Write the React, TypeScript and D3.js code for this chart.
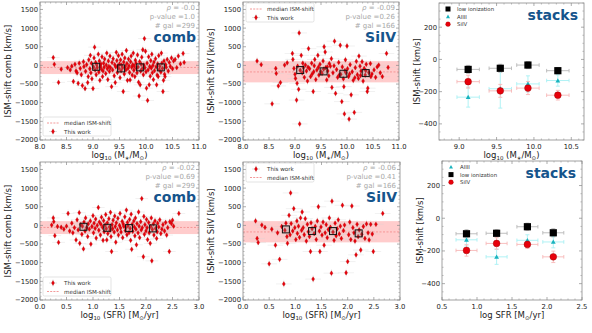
import React from 'react';
import * as d3 from 'd3';

type P = [number, number];

// ---------- data ----------
const COMB_MASS: P[] = [[8.25,210],[8.27,30],[8.35,-455],[8.40,-100],[8.52,-60],[8.57,-120],[8.60,-20],[8.63,-430],[8.66,30],[8.68,-150],[8.70,-200],[8.72,-480],[8.74,60],[8.76,-80],[8.78,-250],[8.80,-540],[8.82,100],[8.83,-30],[8.85,-620],[8.86,-160],[8.88,20],[8.90,-460],[8.91,-300],[8.92,150],[8.94,-90],[8.95,270],[8.96,-200],[8.97,60],[8.98,-360],[9.00,-620],[9.01,-40],[9.02,200],[9.03,490],[9.04,-120],[9.05,80],[9.06,-250],[9.07,20],[9.08,-60],[9.10,300],[9.11,-180],[9.12,120],[9.13,-400],[9.14,-20],[9.15,40],[9.16,-100],[9.17,230],[9.18,-300],[9.19,-150],[9.20,60],[9.21,-50],[9.22,170],[9.24,-220],[9.25,10],[9.26,330],[9.27,-90],[9.28,-380],[9.29,120],[9.30,-30],[9.31,-160],[9.32,250],[9.33,-60],[9.35,-570],[9.36,80],[9.37,-120],[9.38,180],[9.40,-280],[9.41,20],[9.42,-460],[9.43,-40],[9.44,350],[9.45,130],[9.46,-190],[9.47,-10],[9.48,260],[9.49,-80],[9.50,40],[9.51,-330],[9.52,150],[9.53,-140],[9.54,10],[9.55,300],[9.56,-60],[9.57,-700],[9.58,90],[9.59,-230],[9.60,200],[9.61,-30],[9.62,-120],[9.63,400],[9.64,50],[9.65,-400],[9.66,-80],[9.67,170],[9.68,-10],[9.69,-190],[9.70,-390],[9.71,100],[9.72,250],[9.73,-50],[9.74,-260],[9.75,20],[9.76,330],[9.77,-130],[9.78,-20],[9.79,-300],[9.80,140],[9.81,60],[9.82,-80],[9.83,-200],[9.84,280],[9.85,-40],[9.86,-450],[9.87,-820],[9.88,100],[9.89,-520],[9.90,-150],[9.91,30],[9.92,220],[9.93,-90],[9.94,420],[9.95,-250],[9.96,10],[9.97,720],[9.98,-60],[9.99,380],[10.00,-170],[10.01,-610],[10.02,60],[10.03,-940],[10.04,-120],[10.05,230],[10.06,-520],[10.07,-30],[10.08,-290],[10.09,130],[10.10,-70],[10.11,300],[10.12,-200],[10.13,0],[10.14,-380],[10.15,90],[10.16,-140],[10.18,180],[10.19,-40],[10.20,-520],[10.21,-260],[10.22,40],[10.23,-300],[10.24,260],[10.25,-110],[10.26,-20],[10.28,-180],[10.29,330],[10.30,60],[10.31,-80],[10.32,-700],[10.33,-400],[10.34,120],[10.35,-240],[10.36,-300],[10.37,20],[10.38,-50],[10.40,160],[10.42,-150],[10.44,80],[10.46,-30],[10.48,200],[10.50,-90],[10.52,120],[10.55,160],[10.58,-60],[10.61,250],[10.65,40],[10.70,320],[10.72,80]];

const SIIV_MASS: P[] = [[8.27,120],[8.35,20],[8.56,-1030],[8.63,-80],[8.64,-215],[8.68,-550],[8.72,-460],[8.80,10],[8.85,70],[8.95,320],[8.96,160],[8.98,-80],[9.00,-240],[9.01,-350],[9.03,-930],[9.04,-480],[9.05,-20],[9.07,-640],[9.08,870],[9.09,-1570],[9.10,-130],[9.12,270],[9.14,-200],[9.15,60],[9.16,-60],[9.18,-320],[9.20,10],[9.22,-150],[9.24,-420],[9.25,-50],[9.26,450],[9.28,-90],[9.30,-300],[9.32,60],[9.33,-230],[9.35,-700],[9.36,-170],[9.37,-10],[9.38,160],[9.40,-380],[9.42,-120],[9.44,270],[9.45,-50],[9.46,-260],[9.48,30],[9.50,-170],[9.52,-215],[9.54,120],[9.55,-100],[9.56,500],[9.58,360],[9.59,-60],[9.61,-390],[9.62,-40],[9.63,-150],[9.65,-280],[9.66,50],[9.68,-20],[9.70,180],[9.71,-590],[9.73,-200],[9.75,-10],[9.76,650],[9.78,-750],[9.80,-110],[9.82,-320],[9.84,80],[9.85,-260],[9.87,540],[9.88,-240],[9.90,-970],[9.91,-40],[9.93,-360],[9.94,-570],[9.95,-1300],[9.96,-140],[9.97,150],[9.98,-200],[10.00,520],[10.01,-90],[10.03,-300],[10.04,-1440],[10.05,-230],[10.06,20],[10.08,-790],[10.10,-170],[10.12,-400],[10.14,-1260],[10.15,-330],[10.16,-60],[10.18,110],[10.20,-250],[10.22,-350],[10.23,250],[10.25,-20],[10.26,-270],[10.27,-150],[10.29,100],[10.31,-420],[10.33,-80],[10.35,-260],[10.36,-140],[10.37,30],[10.39,-700],[10.40,-610],[10.42,-190],[10.45,50],[10.46,-300],[10.48,-230],[10.52,-120],[10.55,-320],[10.58,-40],[10.61,10],[10.64,-200],[10.68,-300],[10.76,320],[10.79,-55]];

const COMB_SFR: P[] = [[0.22,10],[0.25,200],[0.26,100],[0.28,-275],[0.33,-30],[0.35,-455],[0.40,-50],[0.45,-100],[0.50,-20],[0.53,320],[0.56,-150],[0.60,60],[0.62,-200],[0.65,-60],[0.68,-390],[0.70,150],[0.72,-120],[0.74,340],[0.75,-480],[0.77,20],[0.79,-240],[0.80,-20],[0.82,-630],[0.83,90],[0.85,-150],[0.86,200],[0.88,-60],[0.90,-300],[0.91,40],[0.93,-100],[0.95,120],[0.96,-500],[0.98,-30],[1.00,260],[1.01,-200],[1.02,60],[1.04,-80],[1.05,170],[1.06,-340],[1.08,0],[1.10,480],[1.11,-130],[1.12,90],[1.14,-260],[1.15,30],[1.16,220],[1.18,-50],[1.19,-400],[1.20,130],[1.21,-170],[1.23,10],[1.24,290],[1.25,-90],[1.26,-390],[1.27,70],[1.28,-220],[1.30,180],[1.31,-40],[1.32,-130],[1.33,350],[1.34,-300],[1.35,-700],[1.36,20],[1.37,-90],[1.38,140],[1.40,-180],[1.41,250],[1.42,-30],[1.43,-450],[1.44,70],[1.46,-120],[1.47,190],[1.48,-260],[1.50,0],[1.51,320],[1.52,-70],[1.53,-180],[1.55,110],[1.56,-330],[1.57,40],[1.58,-20],[1.60,230],[1.61,-140],[1.62,-60],[1.63,410],[1.64,-250],[1.65,80],[1.66,-10],[1.68,-190],[1.69,160],[1.70,-80],[1.71,-400],[1.72,300],[1.73,-640],[1.74,30],[1.75,-160],[1.77,120],[1.78,-40],[1.79,-280],[1.80,200],[1.81,-100],[1.82,-520],[1.83,50],[1.85,-200],[1.86,360],[1.87,-20],[1.88,-330],[1.90,100],[1.91,-120],[1.92,720],[1.93,-60],[1.95,-840],[1.96,240],[1.97,-240],[1.98,20],[2.00,-150],[2.01,160],[2.02,-60],[2.03,-380],[2.05,80],[2.06,-200],[2.08,-480],[2.09,-30],[2.10,200],[2.11,-950],[2.12,-110],[2.14,40],[2.15,-260],[2.17,120],[2.18,-80],[2.20,-350],[2.21,-170],[2.22,60],[2.24,-40],[2.26,150],[2.28,-220],[2.30,-100],[2.32,20],[2.35,-150],[2.37,80],[2.39,-260],[2.41,-60],[2.44,-700],[2.45,100],[2.48,50],[2.50,140],[2.52,-20],[2.62,320]];

const SIIV_SFR: P[] = [[0.24,120],[0.27,-350],[0.29,-460],[0.36,10],[0.42,-55],[0.50,-1030],[0.55,-100],[0.62,-530],[0.66,-200],[0.70,-910],[0.74,-30],[0.78,-1570],[0.80,-130],[0.82,60],[0.84,-300],[0.85,-480],[0.88,270],[0.90,-250],[0.91,870],[0.92,50],[0.95,-150],[0.97,450],[0.99,-60],[1.01,-380],[1.03,120],[1.04,-215],[1.06,-20],[1.08,-320],[1.10,200],[1.12,-130],[1.13,360],[1.15,-60],[1.17,-250],[1.19,180],[1.21,-420],[1.23,30],[1.25,-170],[1.27,-300],[1.29,-700],[1.30,70],[1.32,-90],[1.34,-1440],[1.36,-220],[1.38,-30],[1.40,-380],[1.42,120],[1.44,500],[1.46,-150],[1.47,-700],[1.49,-40],[1.51,-260],[1.53,90],[1.55,-530],[1.57,-200],[1.59,20],[1.61,-330],[1.63,-110],[1.65,200],[1.67,-50],[1.69,-1280],[1.70,650],[1.72,-180],[1.74,-400],[1.76,60],[1.78,-280],[1.80,-90],[1.82,150],[1.84,-230],[1.86,-20],[1.88,-350],[1.90,540],[1.92,-140],[1.94,10],[1.97,-1270],[2.00,-970],[2.02,-250],[2.04,90],[2.06,-380],[2.08,520],[2.10,-60],[2.12,-200],[2.14,-420],[2.16,-790],[2.18,30],[2.20,-300],[2.22,-120],[2.25,-660],[2.27,-240],[2.30,-30],[2.33,-350],[2.36,40],[2.39,-200],[2.41,-390],[2.44,30],[2.47,-230],[2.49,-700],[2.54,30],[2.67,320]];

const COMB_MASS_BINS: P[] = [[9.06,-37],[9.53,-80],[9.89,-53],[10.28,-53]];
const SIIV_MASS_BINS: P[] = [[9.10,-125],[9.55,-160],[9.93,-224],[10.36,-206]];
const COMB_SFR_BINS: P[] = [[0.82,-37],[1.27,-64],[1.68,-72],[2.13,-80]];
const SIIV_SFR_BINS: P[] = [[0.82,-107],[1.32,-152],[1.72,-152],[2.21,-214]];

const COMB_MEDIAN = -55;
const COMB_BAND: P = [-232, 115];
const SIIV_MEDIAN = -175;
const SIIV_BAND: P = [-455, 115];

const STATS_COMB_MASS = ['-0.0', '1.0', '299'];
const STATS_SIIV_MASS = ['-0.09', '0.26', '166'];
const STATS_COMB_SFR = ['-0.02', '0.69', '299'];
const STATS_SIIV_SFR = ['-0.06', '0.41', '166'];

const SCATTER_Y_TICKS = [1500, 1000, 500, 0, -500, -1000, -1500, -2000];
const MASS_X_TICKS = [8.0, 8.5, 9.0, 9.5, 10.0, 10.5, 11.0];
const SFR_X_TICKS = [0.0, 0.5, 1.0, 1.5, 2.0, 2.5, 3.0];

// stacks
const STACK_MASS_X = [9.12, 9.55, 9.92, 10.32];
const LOWION_MASS = [-62, -55, -35, -70];
const LOWION_MASS_ERR = [25, 25, 22, 20];
const ALIII_MASS = [-234, -182, -152, -131];
const ALIII_MASS_ERR = [62, 120, 50, 35];
const SIIV_STACK_MASS = [-138, -195, -178, -222];
const SIIV_STACK_MASS_ERR = [40, 40, 40, 30];

const STACK_SFR_X = [0.85, 1.28, 1.72, 2.09];
const LOWION_SFR = [-95, -92, -52, -89];
const LOWION_SFR_ERR = [25, 22, 22, 25];
const ALIII_SFR = [-132, -236, -135, -145];
const ALIII_SFR_ERR = [38, 46, 34, 36];
const SIIV_STACK_SFR = [-197, -154, -160, -236];
const SIIV_STACK_SFR_ERR = [35, 35, 25, 35];

const STACK_Y_TICKS = [200, 0, -200, -400];
const STACK_MASS_X_TICKS = [9.0, 9.5, 10.0, 10.5];
const STACK_SFR_X_TICKS = [0.5, 1.0, 1.5, 2.0, 2.5];

// ---------- style ----------
const FONT = 'DejaVu Sans, sans-serif';
const TAG_COLOR = '#15548c';
const STAT_COLOR = '#a8a8a8';
const FRAME = '#8a8a8a';
const RED = '#e8000b';

const fmtY = (v: number) => (v < 0 ? '\u2212' + Math.abs(v) : String(v));
const fmtX = (v: number) => (v < 0 ? '\u2212' : '') + Math.abs(v).toFixed(1);

function diamond(cx: number, cy: number, w = 1.5, h = 2.4) {
  return `M${cx},${cy - h}L${cx + w},${cy}L${cx},${cy + h}L${cx - w},${cy}Z`;
}

function Frame({ x0, x1, y0, y1, xs, ys, xTicks, yTicks, xMinor, yMinor }: any) {
  const els: any[] = [];
  const L = 3, m = 1.6;
  xTicks.forEach((t: number, i: number) => {
    const x = xs(t);
    els.push(<line key={'xt' + i} x1={x} x2={x} y1={y1} y2={y1 - L} stroke={FRAME} strokeWidth={0.7} />);
    els.push(<line key={'xtt' + i} x1={x} x2={x} y1={y0} y2={y0 + L} stroke={FRAME} strokeWidth={0.7} />);
  });
  yTicks.forEach((t: number, i: number) => {
    const y = ys(t);
    els.push(<line key={'yt' + i} x1={x0} x2={x0 + L} y1={y} y2={y} stroke={FRAME} strokeWidth={0.7} />);
    els.push(<line key={'ytr' + i} x1={x1} x2={x1 - L} y1={y} y2={y} stroke={FRAME} strokeWidth={0.7} />);
  });
  xMinor.forEach((t: number, i: number) => {
    const x = xs(t);
    els.push(<line key={'xm' + i} x1={x} x2={x} y1={y1} y2={y1 - m} stroke={FRAME} strokeWidth={0.5} />);
    els.push(<line key={'xmt' + i} x1={x} x2={x} y1={y0} y2={y0 + m} stroke={FRAME} strokeWidth={0.5} />);
  });
  yMinor.forEach((t: number, i: number) => {
    const y = ys(t);
    els.push(<line key={'ym' + i} x1={x0} x2={x0 + m} y1={y} y2={y} stroke={FRAME} strokeWidth={0.5} />);
    els.push(<line key={'ymr' + i} x1={x1} x2={x1 - m} y1={y} y2={y} stroke={FRAME} strokeWidth={0.5} />);
  });
  return (
    <g>
      {els}
      <rect x={x0} y={y0} width={x1 - x0} height={y1 - y0} fill="none" stroke={FRAME} strokeWidth={0.8} />
    </g>
  );
}

function TickLabels({ x0, y1, xs, ys, xTicks, yTicks, xFmt }: any) {
  return (
    <g fontFamily={FONT} fontSize={6.8} fill="#222">
      {xTicks.map((t: number, i: number) => (
        <text key={'x' + i} x={xs(t)} y={y1 + 8.5} textAnchor="middle">{xFmt(t)}</text>
      ))}
      {yTicks.map((t: number, i: number) => (
        <text key={'y' + i} x={x0 - 2} y={ys(t) + 2.4} textAnchor="end">{fmtY(t)}</text>
      ))}
    </g>
  );
}

function MassLabel({ x, y }: any) {
  return (
    <text x={x} y={y} textAnchor="middle" fontFamily={FONT} fontSize={8.5} fill="#222">
      <tspan>log</tspan>
      <tspan dy={2} fontSize={5.5}>10</tspan>
      <tspan dy={-2}> (M</tspan>
      <tspan dy={2} fontSize={5.5}>∗</tspan>
      <tspan dy={-2}>/M</tspan>
      <tspan dy={2} fontSize={5.5}>⊙</tspan>
      <tspan dy={-2}>)</tspan>
    </text>
  );
}

function SfrLabel({ x, y, plain }: any) {
  if (plain) {
    return (
      <text x={x} y={y} textAnchor="middle" fontFamily={FONT} fontSize={8.5} fill="#222">
        <tspan>log SFR [M</tspan>
        <tspan dy={2} fontSize={5.5}>⊙</tspan>
        <tspan dy={-2}>/yr]</tspan>
      </text>
    );
  }
  return (
    <text x={x} y={y} textAnchor="middle" fontFamily={FONT} fontSize={8.5} fill="#222">
      <tspan>log</tspan>
      <tspan dy={2} fontSize={5.5}>10</tspan>
      <tspan dy={-2}> (SFR) [M</tspan>
      <tspan dy={2} fontSize={5.5}>⊙</tspan>
      <tspan dy={-2}>/yr]</tspan>
    </text>
  );
}

function ScatterPanel(props: any) {
  const { x0, x1, y0, y1, xDomain, xTicks, xMinorStep, points, bins, median, band, stats, tag, yLabel, xLabel, legend, xErr } = props;
  const xs = d3.scaleLinear().domain(xDomain).range([x0, x1]);
  const ys = d3.scaleLinear().domain([-2000, 1700]).range([y1, y0]);
  const xMinor = d3.range(xDomain[0], xDomain[1] + 1e-9, xMinorStep).filter((v) => !xTicks.some((t: number) => Math.abs(t - v) < 1e-6));
  const yMinor = d3.range(-2000, 1700, 100).filter((v) => v % 500 !== 0);
  const yErr = 110;
  const clip = `clip-${x0}-${y0}`;
  const legendRows = legend.order.map((k: string, i: number) => {
    const ly = legend.y + 6 + i * 8.5;
    const lx = legend.x + 4;
    if (k === 'median') {
      return (
        <g key={k}>
          <line x1={lx} x2={lx + 12} y1={ly} y2={ly} stroke="#f08080" strokeWidth={0.8} strokeDasharray="2,1.2" />
          <text x={lx + 17} y={ly + 2} fontFamily={FONT} fontSize={5.6} fill="#333">median ISM-shift</text>
        </g>
      );
    }
    return (
      <g key={k}>
        <line x1={lx + 2} x2={lx + 10} y1={ly} y2={ly} stroke="#ccc" strokeWidth={0.6} />
        <line x1={lx + 6} x2={lx + 6} y1={ly - 3.5} y2={ly + 3.5} stroke="#ccc" strokeWidth={0.6} />
        <path d={diamond(lx + 6, ly)} fill={RED} stroke="#a00" strokeWidth={0.3} />
        <text x={lx + 17} y={ly + 2} fontFamily={FONT} fontSize={5.6} fill="#333">This work</text>
      </g>
    );
  });
  return (
    <g>
      <defs>
        <clipPath id={clip}>
          <rect x={x0} y={y0} width={x1 - x0} height={y1 - y0} />
        </clipPath>
      </defs>
      <g clipPath={`url(#${clip})`}>
        <rect x={x0} y={ys(band[1])} width={x1 - x0} height={ys(band[0]) - ys(band[1])} fill="#ff0000" fillOpacity={0.2} />
        <line x1={x0} x2={x1} y1={ys(median)} y2={ys(median)} stroke="#f08080" strokeWidth={0.7} strokeDasharray="2,1.5" />
        {points.map((p: P, i: number) => (
          <g key={'e' + i} stroke="#d4d4d4" strokeOpacity={0.55} strokeWidth={0.6}>
            <line x1={xs(p[0] - xErr)} x2={xs(p[0] + xErr)} y1={ys(p[1])} y2={ys(p[1])} />
            <line x1={xs(p[0])} x2={xs(p[0])} y1={ys(p[1] - yErr)} y2={ys(p[1] + yErr)} />
          </g>
        ))}
        {points.map((p: P, i: number) => (
          <path key={'p' + i} d={diamond(xs(p[0]), ys(p[1]))} fill={RED} stroke="#b00000" strokeWidth={0.3} />
        ))}
        {bins.map((b: P, i: number) => (
          <rect key={'b' + i} x={xs(b[0]) - 3.5} y={ys(b[1]) - 3.5} width={7} height={7} fill="#888" fillOpacity={0.25} stroke="#111" strokeWidth={1} />
        ))}
      </g>
      <Frame x0={x0} x1={x1} y0={y0} y1={y1} xs={xs} ys={ys} xTicks={xTicks} yTicks={SCATTER_Y_TICKS} xMinor={xMinor} yMinor={yMinor} />
      <TickLabels x0={x0} y1={y1} xs={xs} ys={ys} xTicks={xTicks} yTicks={SCATTER_Y_TICKS} xFmt={fmtX} />
      <g fontFamily={FONT} fontSize={7} fill={STAT_COLOR} textAnchor="end">
        <text x={x1 - 4} y={y0 + 8}><tspan fontStyle="italic">ρ</tspan> = {stats[0]}</text>
        <text x={x1 - 4} y={y0 + 17}>p-value ={stats[1]}</text>
        <text x={x1 - 4} y={y0 + 26}># gal ={stats[2]}</text>
      </g>
      <text x={x1 - 3} y={y0 + 40} textAnchor="end" fontFamily={FONT} fontSize={14} fontWeight="bold" fill={TAG_COLOR}>{tag}</text>
      <g>
        <rect x={legend.x} y={legend.y} width={legend.w} height={legend.h} rx={1.5} fill="#fff" fillOpacity={0.85} stroke="#d0d0d0" strokeWidth={0.6} />
        {legendRows}
      </g>
      <text transform={`translate(${x0 - 29},${(y0 + y1) / 2}) rotate(-90)`} textAnchor="middle" fontFamily={FONT} fontSize={8.5} fill="#222">{yLabel}</text>
      {xLabel}
    </g>
  );
}

function StackPanel(props: any) {
  const { x0, x1, y0, y1, xDomain, xTicks, xMinorStep, xv, low, lowErr, al, alErr, si, siErr, xErr, legendOrder, xLabel } = props;
  const xs = d3.scaleLinear().domain(xDomain).range([x0, x1]);
  const ys = d3.scaleLinear().domain([-500, 350]).range([y1, y0]);
  const xMinor = d3.range(Math.ceil(xDomain[0] * 10) / 10, xDomain[1], xMinorStep).filter((v) => !xTicks.some((t: number) => Math.abs(t - v) < 1e-6));
  const yMinor = d3.range(-500, 351, 50).filter((v) => v % 200 !== 0);
  const eb = (vals: number[], errs: number[], color: string, key: string) =>
    xv.map((x: number, i: number) => {
      const cx = xs(x), cy = ys(vals[i]);
      const ya = ys(vals[i] + errs[i]), yb = ys(vals[i] - errs[i]);
      const xa = xs(x - xErr), xb = xs(x + xErr);
      return (
        <g key={key + i} stroke={color} strokeWidth={0.9}>
          <line x1={xa} x2={xb} y1={cy} y2={cy} />
          <line x1={cx} x2={cx} y1={ya} y2={yb} />
          <line x1={xa} x2={xa} y1={cy - 1.8} y2={cy + 1.8} />
          <line x1={xb} x2={xb} y1={cy - 1.8} y2={cy + 1.8} />
          <line x1={cx - 2} x2={cx + 2} y1={ya} y2={ya} />
          <line x1={cx - 2} x2={cx + 2} y1={yb} y2={yb} />
        </g>
      );
    });
  const tri = (cx: number, cy: number, s = 2.4) => `M${cx},${cy - s}L${cx + s},${cy + s * 0.8}L${cx - s},${cy + s * 0.8}Z`;
  const legendItems: any = {
    low: (lx: number, ly: number) => <rect x={lx - 2.5} y={ly - 2.5} width={5} height={5} fill="#000" />,
    al: (lx: number, ly: number) => <path d={tri(lx, ly, 2)} fill="#19b3be" />,
    si: (lx: number, ly: number) => <circle cx={lx} cy={ly} r={2.4} fill={RED} stroke="#900" strokeWidth={0.3} />,
  };
  const legendText: any = { low: 'low ionization', al: 'AlIII', si: 'SiIV' };
  return (
    <g>
      {eb(low, lowErr, '#b8b8b8', 'le')}
      {eb(al, alErr, '#a8f0f4', 'ae')}
      {eb(si, siErr, '#f7b8b8', 'se')}
      {xv.map((x: number, i: number) => (
        <rect key={'l' + i} x={xs(x) - 3.6} y={ys(low[i]) - 3.6} width={7.2} height={7.2} fill="#000" />
      ))}
      {xv.map((x: number, i: number) => (
        <path key={'a' + i} d={tri(xs(x), ys(al[i]))} fill="#19b3be" />
      ))}
      {xv.map((x: number, i: number) => (
        <circle key={'s' + i} cx={xs(x)} cy={ys(si[i])} r={3.4} fill={RED} stroke="#8a0000" strokeWidth={0.4} />
      ))}
      <Frame x0={x0} x1={x1} y0={y0} y1={y1} xs={xs} ys={ys} xTicks={xTicks} yTicks={STACK_Y_TICKS} xMinor={xMinor} yMinor={yMinor} />
      <TickLabels x0={x0} y1={y1} xs={xs} ys={ys} xTicks={xTicks} yTicks={STACK_Y_TICKS} xFmt={fmtX} />
      {legendOrder.map((k: string, i: number) => {
        const lx = x0 + 9, ly = y0 + 6 + i * 7.6;
        return (
          <g key={k}>
            {legendItems[k](lx, ly)}
            <text x={lx + 9} y={ly + 2} fontFamily={FONT} fontSize={5.4} fill="#333">{legendText[k]}</text>
          </g>
        );
      })}
      <text x={x1 - 6} y={y0 + 17} textAnchor="end" fontFamily={FONT} fontSize={14} fontWeight="bold" fill={TAG_COLOR}>stacks</text>
      <text transform={`translate(${x0 - 19},${(y0 + y1) / 2}) rotate(-90)`} textAnchor="middle" fontFamily={FONT} fontSize={8.5} fill="#222">ISM-shift [km/s]</text>
      {xLabel}
    </g>
  );
}

export default function App() {
  return (
    <svg width={592} height={333} style={{ position: 'absolute', left: 0, top: 0, background: '#fff' }}>
      <ScatterPanel
        x0={40} x1={199} y0={2} y1={140}
        xDomain={[8, 11]} xTicks={MASS_X_TICKS} xMinorStep={0.1}
        points={COMB_MASS} bins={COMB_MASS_BINS} median={COMB_MEDIAN} band={COMB_BAND}
        stats={STATS_COMB_MASS} tag="comb" yLabel="ISM-shift comb [km/s]" xErr={0.12}
        legend={{ x: 43, y: 117, w: 68, h: 19, order: ['median', 'work'] }}
        xLabel={<MassLabel x={119.5} y={158} />}
      />
      <ScatterPanel
        x0={243} x1={399} y0={2} y1={140}
        xDomain={[8, 11]} xTicks={MASS_X_TICKS} xMinorStep={0.1}
        points={SIIV_MASS} bins={SIIV_MASS_BINS} median={SIIV_MEDIAN} band={SIIV_BAND}
        stats={STATS_SIIV_MASS} tag="SiIV" yLabel="ISM-shift SiIV [km/s]" xErr={0.15}
        legend={{ x: 246, y: 3, w: 68, h: 19, order: ['median', 'work'] }}
        xLabel={<MassLabel x={321} y={158} />}
      />
      <StackPanel
        x0={439} x1={584} y0={3} y1={140}
        xDomain={[8.73, 10.67]} xTicks={STACK_MASS_X_TICKS} xMinorStep={0.1}
        xv={STACK_MASS_X} low={LOWION_MASS} lowErr={LOWION_MASS_ERR}
        al={ALIII_MASS} alErr={ALIII_MASS_ERR} si={SIIV_STACK_MASS} siErr={SIIV_STACK_MASS_ERR}
        xErr={0.15} legendOrder={['low', 'al', 'si']}
        xLabel={<MassLabel x={511.5} y={158} />}
      />
      <ScatterPanel
        x0={40} x1={199} y0={162} y1={300}
        xDomain={[0, 3]} xTicks={SFR_X_TICKS} xMinorStep={0.1}
        points={COMB_SFR} bins={COMB_SFR_BINS} median={COMB_MEDIAN} band={COMB_BAND}
        stats={STATS_COMB_SFR} tag="comb" yLabel="ISM-shift comb [km/s]" xErr={0.12}
        legend={{ x: 43, y: 277, w: 68, h: 19, order: ['work', 'median'] }}
        xLabel={<SfrLabel x={119.5} y={318} />}
      />
      <ScatterPanel
        x0={243} x1={400} y0={162} y1={300}
        xDomain={[0, 3]} xTicks={SFR_X_TICKS} xMinorStep={0.1}
        points={SIIV_SFR} bins={SIIV_SFR_BINS} median={SIIV_MEDIAN} band={SIIV_BAND}
        stats={STATS_SIIV_SFR} tag="SiIV" yLabel="ISM-shift SiIV [km/s]" xErr={0.15}
        legend={{ x: 246, y: 163, w: 68, h: 19, order: ['work', 'median'] }}
        xLabel={<SfrLabel x={321.5} y={318} />}
      />
      <StackPanel
        x0={442} x1={582} y0={161} y1={300}
        xDomain={[0.5, 2.5]} xTicks={STACK_SFR_X_TICKS} xMinorStep={0.1}
        xv={STACK_SFR_X} low={LOWION_SFR} lowErr={LOWION_SFR_ERR}
        al={ALIII_SFR} alErr={ALIII_SFR_ERR} si={SIIV_STACK_SFR} siErr={SIIV_STACK_SFR_ERR}
        xErr={0.15} legendOrder={['al', 'low', 'si']}
        xLabel={<SfrLabel x={512} y={318} plain />}
      />
    </svg>
  );
}
